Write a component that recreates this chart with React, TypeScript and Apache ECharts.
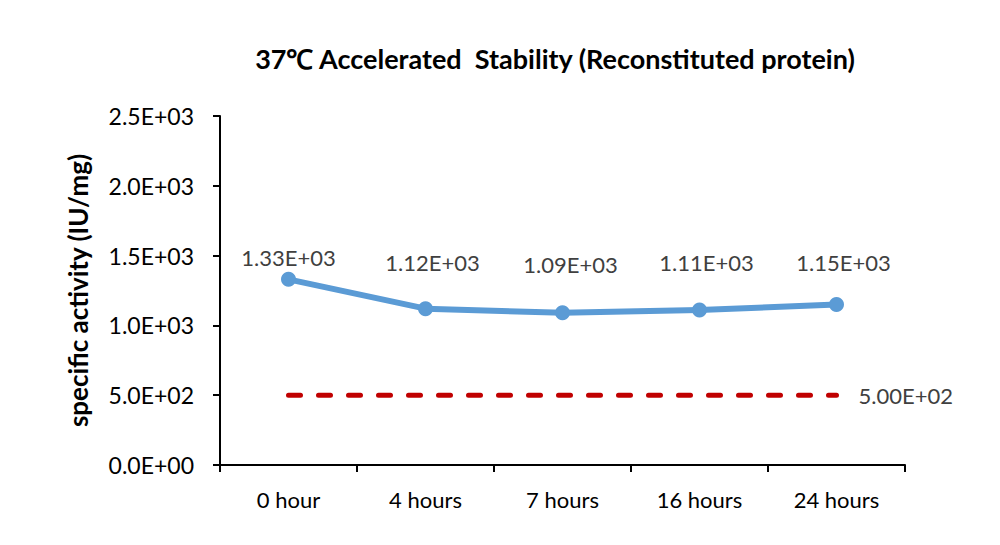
import React, { useEffect, useRef } from "react";
import * as echarts from "echarts";

const categories = ["0 hour", "4 hours", "7 hours", "16 hours", "24 hours"];
const activity = [1330, 1120, 1090, 1110, 1150];
const threshold = [500, 500, 500, 500, 500];
const yTicks = { min: 0, max: 2500, interval: 500 };
// label placement relative to each marker (x, y in px)
const labelOffsets: [number, number][] = [
  [0, -22],
  [7, -46],
  [8, -48],
  [7, -48],
  [7, -42],
];

const FONT = "Lato, 'Open Sans', sans-serif";

const sci = (v: number, digits: number) =>
  v
    .toExponential(digits)
    .replace(/e([+-])(\d)$/, "E$10$2")
    .replace(/e([+-])(\d\d)$/, "E$1$2");

export default function App() {
  const ref = useRef<HTMLDivElement>(null);

  useEffect(() => {
    if (!ref.current) return;
    const chart = echarts.init(ref.current, undefined, { renderer: "svg" });
    chart.setOption({
      animation: false,
      backgroundColor: "#ffffff",
      textStyle: { fontFamily: FONT },
      title: {
        text: "37℃ Accelerated  Stability (Reconstituted protein)",
        left: 542,
        textAlign: "center",
        top: 32,
        textStyle: { fontFamily: FONT, fontSize: 27, fontWeight: "bold", color: "#000000" },
      },
      grid: { left: 212, right: 87, top: 108, bottom: 72 },
      xAxis: {
        type: "category",
        data: categories,
        boundaryGap: true,
        axisLine: { lineStyle: { color: "#000000", width: 2 } },
        axisTick: { show: true, length: 7, alignWithLabel: false, lineStyle: { color: "#000000", width: 2 } },
        axisLabel: { color: "#000000", fontSize: 22, margin: 23, fontFamily: FONT },
        splitLine: { show: false },
      },
      yAxis: {
        type: "value",
        min: yTicks.min,
        max: yTicks.max,
        interval: yTicks.interval,
        name: "specific activity (IU/mg)",
        nameLocation: "middle",
        nameGap: 129,
        nameRotate: 90,
        nameTextStyle: { fontFamily: FONT, fontSize: 26, fontWeight: "bold", color: "#000000" },
        axisLine: { show: true, lineStyle: { color: "#000000", width: 2 } },
        axisTick: { show: true, length: 7, lineStyle: { color: "#000000", width: 2 } },
        axisLabel: { color: "#000000", fontSize: 23, margin: 26, fontFamily: FONT, formatter: (v: number) => sci(v, 1) },
        splitLine: { show: false },
      },
      series: [
        {
          name: "threshold",
          type: "line",
          data: threshold,
          symbol: "none",
          lineStyle: { color: "#C00000", width: 5, type: [12, 18], cap: "round" },
          endLabel: {
            show: true,
            distance: 22,
            color: "#404040",
            fontSize: 22,
            fontFamily: FONT,
            formatter: (p: any) => sci(p.value, 2),
          },
          z: 2,
        },
        {
          name: "activity",
          type: "line",
          data: activity.map((v, i) => ({
            value: v,
            label: { offset: labelOffsets[i] },
          })),
          symbol: "circle",
          symbolSize: 15,
          itemStyle: { color: "#5B9BD5" },
          lineStyle: { color: "#5B9BD5", width: 6, cap: "round", join: "round" },
          label: {
            show: true,
            position: "inside",
            color: "#404040",
            fontSize: 22,
            fontFamily: FONT,
            formatter: (p: any) => sci(p.value, 2),
          },
          z: 3,
        },
      ],
    });
    return () => chart.dispose();
  }, []);

  return <div ref={ref} style={{ width: 984, height: 529 }} />;
}
